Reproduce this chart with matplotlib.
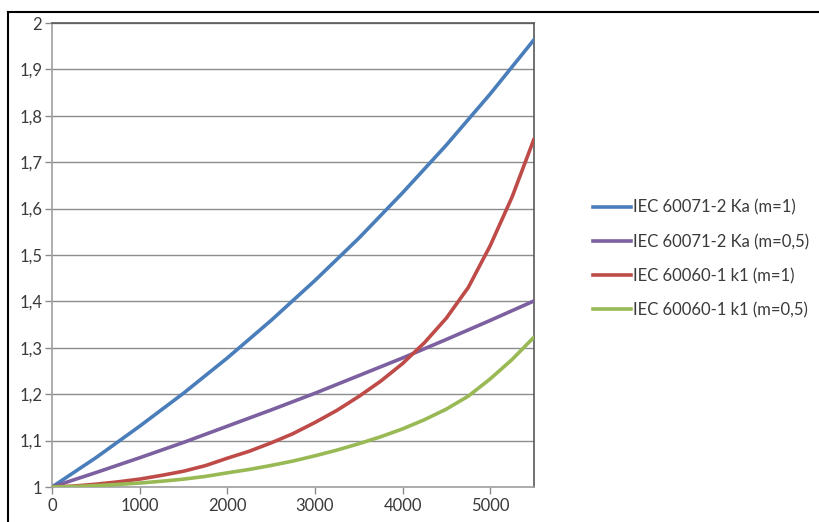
import matplotlib
matplotlib.use("Agg")
import matplotlib.pyplot as plt
from matplotlib.lines import Line2D
from matplotlib.ticker import FuncFormatter

plt.rcParams["font.family"] = ["Lato", "DejaVu Sans"]

# altitude (m) and correction factors
h_ka = [0, 500, 1000, 1500, 2000, 2500, 3000, 3500, 4000, 4500, 5000, 5500]
ka_m1 = [1.0, 1.063, 1.131, 1.202, 1.278, 1.359, 1.445, 1.536, 1.634, 1.737, 1.847, 1.964]
ka_m05 = [1.0, 1.031, 1.063, 1.096, 1.131, 1.166, 1.202, 1.240, 1.278, 1.318, 1.359, 1.401]

h_k1 = [0, 250, 500, 750, 1000, 1250, 1500, 1750, 2000, 2250, 2500, 2750,
        3000, 3250, 3500, 3750, 4000, 4250, 4500, 4750, 5000, 5250, 5500]
k1_m1 = [1.0, 1.002, 1.006, 1.011, 1.017, 1.025, 1.034, 1.046, 1.062, 1.077, 1.095, 1.115,
         1.139, 1.165, 1.195, 1.228, 1.266, 1.311, 1.364, 1.43, 1.52, 1.625, 1.75]
k1_m05 = [1.0, 1.001, 1.003, 1.0055, 1.0085, 1.0124, 1.0169, 1.0228, 1.0305, 1.0378, 1.0464, 1.0559,
          1.0672, 1.0794, 1.0932, 1.1082, 1.1252, 1.145, 1.1679, 1.1958, 1.2329, 1.2748, 1.3229]

labels = ["IEC 60071-2 Ka (m=1)", "IEC 60071-2 Ka (m=0,5)",
          "IEC 60060-1 k1 (m=1)", "IEC 60060-1 k1 (m=0,5)"]
colors = ["#4a7ebb", "#7d60a0", "#be4b48", "#98b954"]

fig = plt.figure(figsize=(8.2, 5.22), dpi=100)
ax = fig.add_axes([52 / 820, 1 - 487 / 522, 482 / 820, 464 / 522])

series = [(h_ka, ka_m1), (h_ka, ka_m05), (h_k1, k1_m1), (h_k1, k1_m05)]
for (x, y), c, lab in zip(series, colors, labels):
    ax.plot(x, y, color=c, lw=2.6, label=lab, solid_capstyle="round",
            solid_joinstyle="round", zorder=3)

ax.set_xlim(0, 5500)
ax.set_ylim(1, 2)
ax.set_xticks(range(0, 5001, 1000))
ax.set_yticks([1 + i / 10 for i in range(11)])
ax.yaxis.set_major_formatter(FuncFormatter(lambda v, p: ("%g" % round(v, 1)).replace(".", ",")))
ax.grid(axis="y", color="#8c8c8c", lw=1.0)
ax.set_axisbelow(True)

for side in ["left", "bottom"]:
    ax.spines[side].set_color("#a0a0a0")
for side in ["right", "top"]:
    ax.spines[side].set_color("#595959")
for sp in ax.spines.values():
    sp.set_linewidth(1.2)

ax.tick_params(axis="both", colors="#8c8c8c", length=5, width=1.0,
               labelcolor="#3a3a3a", labelsize=12)
ax.tick_params(axis="y", pad=2)
ax.tick_params(axis="x", pad=3)

# legend outside on the right
handles = [Line2D([0], [0], color=c, lw=2.6) for c in colors]
fig.legend(handles, labels, loc="center left", bbox_to_anchor=(593 / 820, 1 - 259 / 522),
           frameon=False, fontsize=12, handlelength=2.3, handletextpad=0.1,
           labelspacing=1.08, borderpad=0, borderaxespad=0, labelcolor="#3a3a3a")

# outer frame
fig.add_artist(Line2D([8 / 820, 1.0], [1 - 12 / 522] * 2, color="black", lw=1.5))
fig.add_artist(Line2D([8 / 820] * 2, [0, 1 - 12 / 522], color="black", lw=1.5))

fig.savefig("out.png", dpi=100)
